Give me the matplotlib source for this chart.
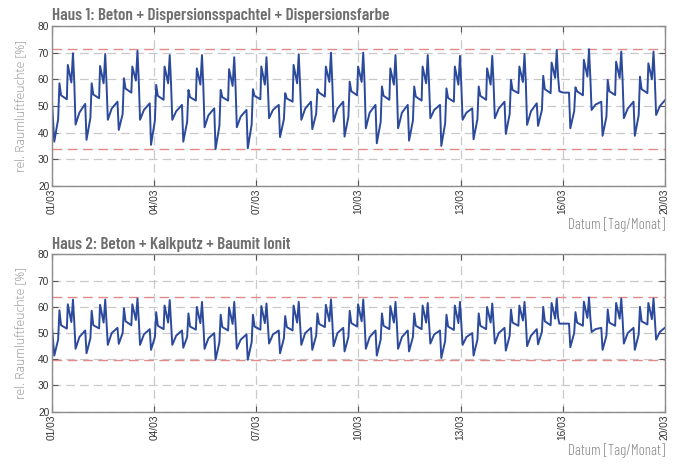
import numpy as np
import matplotlib.pyplot as plt

plt.rcParams["font.family"] = ["Barlow Condensed", "DejaVu Sans"]

# x axis: day of March, ticks split 01/03..20/03 in six equal steps
tick_labels = ["01/03", "04/03", "07/03", "10/03", "13/03", "16/03", "20/03"]
day_start, day_end = 1.0, 20.0

# key points of the daily cycle (days after the night minimum)
key_offsets = [0.0, 0.12, 0.16, 0.21, 0.39, 0.42, 0.53, 0.58, 0.62, 0.66, 0.78, 0.96]
first_min = 1.07

# Haus 1: Beton + Dispersionsspachtel + Dispersionsfarbe
h1_start = 51.7
h1_lo   = [36.6, 37.3, 41.0, 35.4, 36.6, 33.8, 34.1, 38.3, 41.3, 38.5, 36.0, 37.0, 35.0, 37.5, 39.5, 42.5, 41.6, 38.8, 38.8]
h1_rise = [45.0, 45.5, 47.0, 44.5, 44.0, 42.5, 43.0, 45.0, 47.0, 46.0, 44.0, 44.5, 43.5, 45.0, 47.0, 48.5, 48.0, 46.0, 46.5]
h1_s1   = [58.5, 58.5, 60.4, 57.9, 56.0, 56.0, 56.3, 54.8, 56.3, 59.1, 57.3, 57.3, 56.6, 57.3, 59.8, 61.3, 57.0, 59.8, 61.0]
h1_s1k  = [54.0, 54.3, 56.5, 53.8, 53.3, 53.3, 53.8, 52.8, 55.0, 55.5, 53.8, 53.5, 53.0, 53.8, 56.0, 56.3, 55.5, 55.5, 56.3]
h1_s1e  = [52.5, 52.9, 55.0, 52.3, 52.0, 52.0, 52.5, 51.6, 53.5, 54.0, 52.3, 52.0, 51.6, 52.3, 54.8, 54.8, 54.0, 54.1, 54.8]
h1_s2   = [65.4, 65.0, 64.8, 64.8, 64.1, 63.8, 64.8, 65.4, 64.8, 64.8, 64.1, 64.8, 64.8, 64.1, 64.8, 66.3, 67.3, 66.6, 66.0]
h1_s2e  = [58.8, 58.5, 59.5, 58.5, 58.0, 57.5, 58.0, 58.5, 59.0, 59.0, 58.0, 58.5, 58.0, 58.0, 59.0, 60.5, 61.0, 60.5, 60.0]
h1_s3   = [69.8, 69.5, 70.7, 69.1, 69.1, 68.3, 68.3, 69.4, 70.0, 70.0, 69.1, 69.1, 68.8, 68.8, 69.5, 71.0, 71.3, 70.4, 70.4]
h1_s3e  = [59.1, 58.5, 59.5, 58.5, 58.0, 57.5, 58.0, 58.5, 59.0, 59.0, 58.0, 58.5, 58.0, 58.5, 59.0, 61.0, 61.0, 60.0, 60.0]
h1_drop = [43.0, 44.8, 44.8, 44.8, 42.0, 42.0, 45.4, 44.8, 44.1, 41.6, 41.6, 45.4, 44.8, 45.4, 42.9, 55.5, 48.5, 45.4, 46.6]
h1_eve1 = [47.5, 49.0, 48.5, 48.0, 46.5, 46.0, 48.5, 49.0, 49.0, 47.5, 47.5, 48.5, 47.5, 49.0, 48.0, 55.0, 50.5, 49.0, 50.0]
h1_eve2 = [50.8, 51.6, 51.0, 50.4, 49.1, 48.5, 50.4, 51.6, 51.6, 50.4, 50.4, 50.4, 49.1, 51.6, 51.0, 55.0, 51.6, 51.6, 52.5]

# Haus 2: Beton + Kalkputz + Baumit Ionit
h2_start = 52.3
h2_lo   = [41.4, 42.3, 45.9, 43.6, 44.4, 39.8, 39.8, 42.3, 43.6, 43.0, 41.4, 43.0, 40.5, 41.4, 43.3, 45.7, 44.6, 43.6, 43.6]
h2_rise = [47.5, 48.0, 50.0, 48.5, 48.5, 46.5, 46.5, 48.0, 49.0, 48.5, 47.5, 48.5, 47.0, 47.5, 49.0, 50.5, 50.0, 49.0, 49.5]
h2_s1   = [58.7, 58.5, 59.5, 58.0, 57.5, 57.0, 57.0, 56.5, 57.5, 58.5, 57.5, 57.5, 57.0, 57.5, 59.0, 60.0, 58.0, 59.0, 60.0]
h2_s1k  = [53.0, 53.0, 54.5, 52.8, 52.5, 52.3, 52.5, 52.3, 53.5, 53.8, 52.8, 52.8, 52.5, 52.8, 54.0, 54.5, 54.0, 54.0, 54.5]
h2_s1e  = [51.7, 51.8, 53.0, 51.5, 51.3, 51.0, 51.3, 51.0, 52.3, 52.5, 51.5, 51.5, 51.2, 51.5, 52.8, 53.0, 52.8, 52.8, 53.3]
h2_s2   = [61.0, 60.8, 61.0, 60.5, 60.0, 59.8, 60.3, 60.5, 60.8, 61.0, 60.3, 60.5, 60.5, 60.0, 60.5, 61.5, 62.0, 61.5, 61.5]
h2_s2e  = [54.2, 54.0, 55.0, 54.0, 53.8, 53.5, 53.8, 54.0, 54.5, 54.5, 54.0, 54.0, 53.8, 54.0, 54.8, 55.5, 55.8, 55.5, 55.3]
h2_s3   = [62.8, 62.8, 63.2, 62.6, 61.9, 61.9, 61.3, 61.9, 62.8, 62.8, 61.9, 61.5, 61.9, 61.3, 61.9, 63.2, 63.6, 63.2, 63.2]
h2_s3e  = [54.2, 54.0, 55.0, 54.0, 53.8, 53.5, 53.8, 54.0, 54.5, 54.5, 54.0, 54.0, 53.8, 54.0, 54.8, 56.0, 56.0, 55.5, 55.5]
h2_drop = [44.0, 45.5, 45.5, 45.5, 44.0, 44.0, 46.0, 45.5, 45.0, 44.0, 44.0, 46.0, 45.5, 46.0, 45.0, 53.6, 50.4, 46.0, 47.5]
h2_eve1 = [48.5, 50.0, 49.5, 49.0, 48.0, 47.5, 49.5, 50.0, 50.0, 48.5, 48.5, 49.5, 48.5, 50.0, 49.0, 53.6, 51.5, 50.0, 50.5]
h2_eve2 = [51.0, 52.0, 51.5, 51.0, 50.0, 49.5, 51.0, 52.0, 52.0, 51.0, 51.0, 51.0, 50.0, 52.0, 51.5, 53.6, 52.0, 52.0, 52.3]


def build_series(start, levels):
    vals = np.array(levels).T  # one row per day
    t = [day_start]
    v = [start]
    for k, row in enumerate(vals):
        t.extend(first_min + k + np.array(key_offsets))
        v.extend(row)
    return np.array(t), np.array(v)


t1, v1 = build_series(h1_start, [h1_lo, h1_rise, h1_s1, h1_s1k, h1_s1e, h1_s2, h1_s2e,
                                 h1_s3, h1_s3e, h1_drop, h1_eve1, h1_eve2])
t2, v2 = build_series(h2_start, [h2_lo, h2_rise, h2_s1, h2_s1k, h2_s1e, h2_s2, h2_s2e,
                                 h2_s3, h2_s3e, h2_drop, h2_eve1, h2_eve2])

titles = ["Haus 1: Beton + Dispersionsspachtel + Dispersionsfarbe",
          "Haus 2: Beton + Kalkputz + Baumit Ionit"]

fig = plt.figure(figsize=(6.87, 4.73), dpi=100)
ax1 = fig.add_axes([0.0757, 0.607, 0.892, 0.338])
ax2 = fig.add_axes([0.0757, 0.1296, 0.892, 0.3324])

grey_text = "#6f6f6f"
line_blue = "#2c4a9c"
xticks = np.linspace(day_start, day_end, len(tick_labels))

for ax, t, v, title in [(ax1, t1, v1, titles[0]), (ax2, t2, v2, titles[1])]:
    ax.set_xlim(day_start, day_end)
    ax.set_ylim(20, 80)
    ax.set_yticks([20, 30, 40, 50, 60, 70, 80])
    ax.set_xticks(xticks)
    ax.set_xticklabels(tick_labels, rotation=90)
    ax.tick_params(direction="in", length=4, width=0.8, color="#555555",
                   labelcolor="#333333", top=True, right=True, pad=2)
    for lab in ax.get_xticklabels() + ax.get_yticklabels():
        lab.set_family("Liberation Sans")
        lab.set_fontsize(7.3)
    for s in ax.spines.values():
        s.set_color("#8c8c8c")
        s.set_linewidth(1.0)
    ax.grid(True, color="#c9c9c9", linestyle=(0, (7, 4)), linewidth=0.9)
    ax.set_axisbelow(True)
    ax.axhline(v.max(), color="#e08a8a", linestyle=(0, (7, 4)), linewidth=1.0)
    ax.axhline(v.min(), color="#e08a8a", linestyle=(0, (7, 4)), linewidth=1.0)
    ax.plot(t, v, color=line_blue, linewidth=1.4)
    ax.set_title(title, loc="left", fontsize=12.4, fontweight=600, color=grey_text, pad=4)
    ax.set_ylabel("rel. Raumluftfeuchte [%]", fontsize=8.7, color="#8f8f8f",
                  family="Open Sans", fontweight=300, labelpad=8)
    ax.text(1.0, -0.245, "Datum [Tag/Monat]", transform=ax.transAxes, ha="right", va="center",
            fontsize=10.8, fontweight=300, color="#8a8a8a")

fig.savefig("out.png", dpi=100)
